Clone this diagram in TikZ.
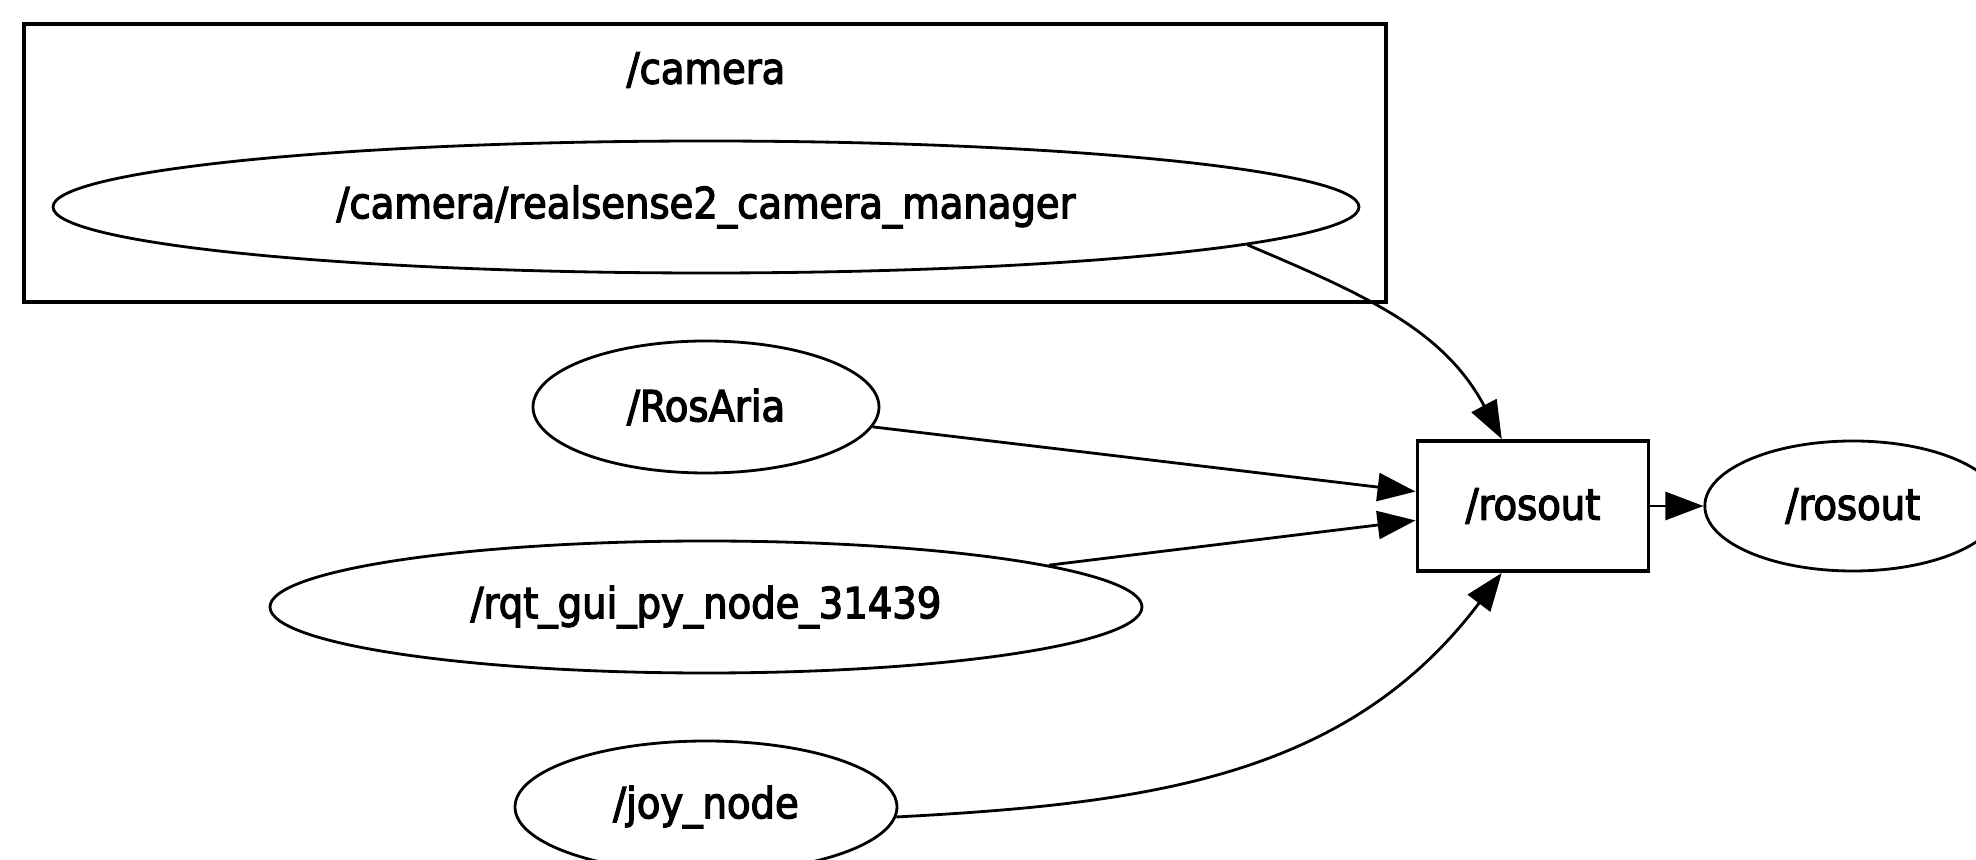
\documentclass[tikz,border=0pt]{standalone}
\usepackage{fontspec}
\setmainfont{DejaVu Sans Condensed}[BoldFont={DejaVu Sans Condensed},BoldFeatures={FakeBold=3}]
\usepackage{tikz}
\usetikzlibrary{arrows.meta}
\usetikzlibrary{shapes.geometric}
\usetikzlibrary{positioning}

\begin{document}
\begin{tikzpicture}[-,>={Triangle[length=3.8mm,width=2.8mm]},line width=0.8pt,node distance=2cm,font=\fontsize{12.2}{14}\selectfont\bfseries]
  \tikzstyle{rosnode}=[draw, ellipse, inner sep=0pt, minimum height=1.32cm, line width=0.8pt]
  \tikzstyle{topic}=[draw, rectangle, inner sep=0pt, minimum width=2.31cm, minimum height=1.30cm, line width=1.1pt]
  \useasboundingbox (0,0) rectangle (19.76,8.6);
  \clip (0,0) rectangle (19.76,8.6);
  % namespace box
  \draw[line width=1.1pt] (0.24,5.58) rectangle (13.86,8.36);
  \node[rosnode, minimum width=13.06cm] (RS) at (7.06,6.53) {/camera/realsense2\_camera\_manager};
  \node (CAM) [above of=RS, node distance=1.37cm] {/camera};
  \node[rosnode, minimum width=3.46cm] (RA) [below of=RS] {/RosAria};
  \node[rosnode, minimum width=8.72cm] (RQ) [below of=RA] {/rqt\_gui\_py\_node\_31439};
  \node[rosnode, minimum width=3.82cm] (JN) [below of=RQ] {/joy\_node};
  \node[topic] (RB) at (15.33,3.54) {/rosout};
  \node[rosnode, minimum width=2.96cm, minimum height=1.30cm] (RO) [right=0.53cm of RB] {/rosout};
  \path[->]
    (RS.-4) edge[out=-23, in=118] (RB.115)
    (RA) edge (RB.173)
    (RQ) edge (RB.187)
    (JN.-3) edge[out=3, in=-127] (RB.245)
    (RB) edge (RO);
\end{tikzpicture}
\end{document}
